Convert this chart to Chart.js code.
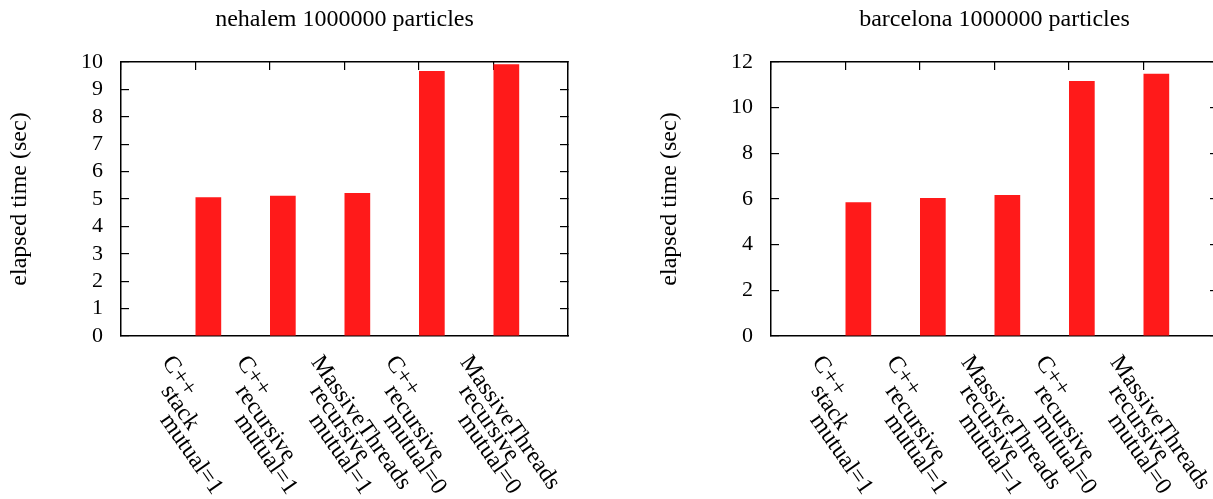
<!DOCTYPE html>
<html>
<head>
<meta charset="utf-8">
<script src="https://cdn.jsdelivr.net/npm/chart.js@4/dist/chart.umd.min.js"></script>
<style>
  html, body { margin: 0; padding: 0; background: #fff; }
  #wrap { position: relative; width: 1213px; height: 499px; overflow: hidden; }
  .fig { position: absolute; top: 0; width: 650px; height: 499px; }
</style>
</head>
<body>
<div id="wrap">
  <div class="fig" style="left:0"><canvas id="nehalem" width="650" height="499"></canvas></div>
  <div class="fig" style="left:650px"><canvas id="barcelona" width="650" height="499"></canvas></div>
</div>
<script>
// categories (one entry per bar, lines of the tick label)
const categories = [
  ["C++", "stack", "mutual=1"],
  ["C++", "recursive", "mutual=1"],
  ["MassiveThreads", "recursive", "mutual=1"],
  ["C++", "recursive", "mutual=0"],
  ["MassiveThreads", "recursive", "mutual=0"]
];
// elapsed time (sec)
const nehalemTimes = [5.06, 5.12, 5.22, 9.67, 9.92];
const barcelonaTimes = [5.86, 6.04, 6.18, 11.17, 11.48];

const nehalemTitle = "nehalem 1000000 particles";
const barcelonaTitle = "barcelona 1000000 particles";
const yTitle = "elapsed time (sec)";

const FONT = "'Liberation Serif', 'Times New Roman', serif";
const RED = "rgb(255,26,26)";

Chart.defaults.font.family = FONT;
Chart.defaults.font.size = 22;
Chart.defaults.color = "#000";

// rotated multi-line x labels, drawn at the x scale's tick pixels
const rotatedLabels = {
  id: "rotatedLabels",
  afterDraw(chart) {
    const ctx = chart.ctx;
    const xs = chart.scales.x;
    const base = chart.chartArea.bottom + 26;
    ctx.save();
    ctx.font = "24px " + FONT;
    ctx.fillStyle = "#000";
    ctx.textAlign = "left";
    ctx.textBaseline = "alphabetic";
    categories.forEach((lines, i) => {
      const px = xs.getPixelForValue(i);
      lines.forEach((line, j) => {
        ctx.save();
        ctx.translate(px - 34 - j, base + 29 * j);
        ctx.rotate(55 * Math.PI / 180);
        ctx.fillText(line, 0, 0);
        ctx.restore();
      });
    });
    ctx.restore();
  }
};

function makeChart(id, title, values, yMax, yStep) {
  const barShift = 0.1725;
  const data = values.map((v, i) => ({ x: i + barShift, y: v }));
  const tickMark = { display: true, drawOnChartArea: false, drawTicks: true, tickLength: -8, color: "#000", lineWidth: 1.2 };
  const border = { display: true, color: "#000", width: 1.5 };

  return new Chart(document.getElementById(id), {
    type: "bar",
    data: {
      datasets: [{
        data: data,
        backgroundColor: RED,
        borderWidth: 0,
        barPercentage: 0.345,
        categoryPercentage: 1,
        xAxisID: "x",
        yAxisID: "y"
      }]
    },
    options: {
      responsive: false,
      animation: false,
      layout: { padding: { left: 0, right: 82, top: 0, bottom: 0 } },
      plugins: {
        legend: { display: false },
        tooltip: { enabled: false },
        title: {
          display: true,
          text: title,
          fullSize: false,
          color: "#000",
          font: { size: 24, weight: "normal" },
          padding: { top: 5, bottom: 28.2 }
        }
      },
      scales: {
        x: {
          type: "linear",
          position: "bottom",
          min: -1, max: 5,
          offset: false,
          ticks: { display: false, stepSize: 1 },
          grid: { display: false, offset: false },
          border: border,
          afterFit: s => { s.height = 163; }
        },
        x2: {
          type: "linear",
          position: "top",
          min: -1, max: 5,
          offset: false,
          ticks: { display: false, stepSize: 1, autoSkip: false },
          grid: Object.assign({ offset: false }, tickMark),
          border: border,
          afterFit: s => { s.height = 0; }
        },
        y: {
          type: "linear",
          position: "left",
          min: 0, max: yMax,
          ticks: { stepSize: yStep, autoSkip: false, padding: 26, color: "#000", font: { size: 22 } },
          grid: tickMark,
          border: border,
          title: { display: true, text: yTitle, color: "#000", font: { size: 24 }, padding: { top: 5, bottom: 0 } },
          afterFit: s => { s.width = 121; }
        },
        y2: {
          type: "linear",
          position: "right",
          min: 0, max: yMax,
          ticks: { display: false, stepSize: yStep, autoSkip: false },
          grid: tickMark,
          border: border,
          afterFit: s => { s.width = 0; }
        }
      }
    },
    plugins: [rotatedLabels]
  });
}

makeChart("nehalem", nehalemTitle, nehalemTimes, 10, 1);
makeChart("barcelona", barcelonaTitle, barcelonaTimes, 12, 2);
</script>
</body>
</html>
